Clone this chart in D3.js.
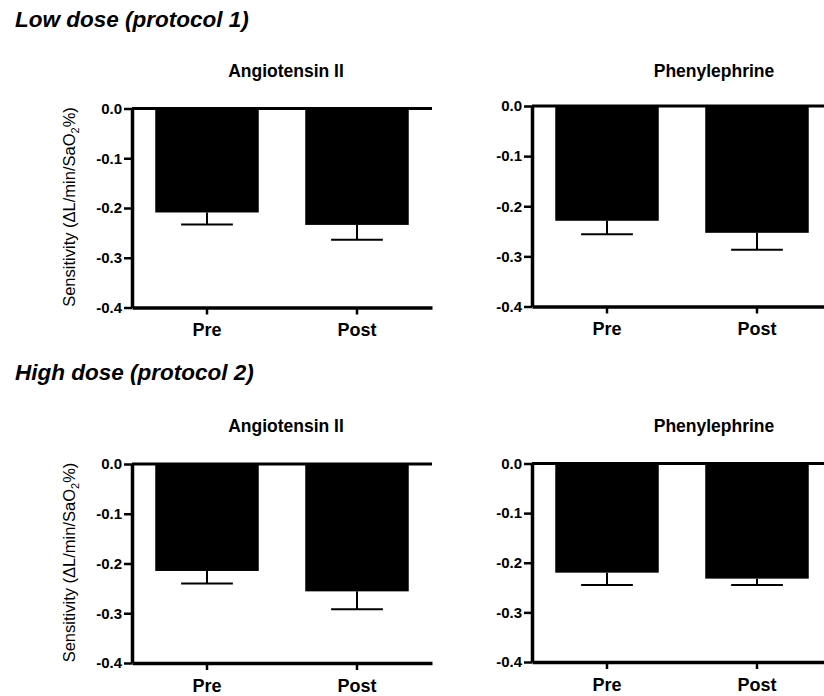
<!DOCTYPE html>
<html>
<head>
<meta charset="utf-8">
<script src="https://cdn.jsdelivr.net/npm/d3@7"></script>
<style>
  html, body { margin: 0; padding: 0; background: #fff; }
  svg { display: block; font-family: "Liberation Sans", Arial, sans-serif; }
</style>
</head>
<body>
<svg id="chart" width="824" height="696"></svg>
<script>
// ---- data ----
const categories = ["Pre", "Post"];
const yTickValues = [0, -0.1, -0.2, -0.3, -0.4];
const sectionTitles = ["Low dose (protocol 1)", "High dose (protocol 2)"];
const drugTitles = ["Angiotensin II", "Phenylephrine"];
const yAxisLabel = "Sensitivity (\u0394L/min/SaO";

const lowAngioMean = [-0.209, -0.234];
const lowAngioErr  = [0.024, 0.030];
const lowPhenyMean = [-0.229, -0.253];
const lowPhenyErr  = [0.027, 0.034];
const highAngioMean = [-0.215, -0.256];
const highAngioErr  = [0.025, 0.036];
const highPhenyMean = [-0.220, -0.232];
const highPhenyErr  = [0.025, 0.013];

// ---- layout ----
const panels = [
  { title: drugTitles[0], mean: lowAngioMean,  err: lowAngioErr,  x0: 132, x1: 432, yTop: 108.5, yBot: 307.5, titleX: 286, titleY: 77, ylab: true },
  { title: drugTitles[1], mean: lowPhenyMean,  err: lowPhenyErr,  x0: 532, x1: 832, yTop: 106,   yBot: 306.5, titleX: 714, titleY: 77, ylab: false },
  { title: drugTitles[0], mean: highAngioMean, err: highAngioErr, x0: 132, x1: 432, yTop: 464,   yBot: 663,   titleX: 286, titleY: 432, ylab: true },
  { title: drugTitles[1], mean: highPhenyMean, err: highPhenyErr, x0: 532, x1: 832, yTop: 463.5, yBot: 662,   titleX: 714, titleY: 432, ylab: false }
];

const svg = d3.select("#chart");

// section titles
svg.selectAll("text.section")
  .data(sectionTitles)
  .enter().append("text")
  .attr("class", "section")
  .attr("x", 15)
  .attr("y", (d, i) => i === 0 ? 27 : 380)
  .attr("font-size", 22.5)
  .attr("font-weight", "bold")
  .attr("font-style", "italic")
  .attr("fill", "#000")
  .text(d => d);

const fmt = d => d.toFixed(1);

panels.forEach(p => {
  const g = svg.append("g");
  const x = d3.scaleBand().domain(categories).range([p.x0, p.x1])
    .paddingInner(0.31).paddingOuter(0.155);
  const y = d3.scaleLinear().domain([0, -0.4]).range([p.yTop, p.yBot]);

  // title
  g.append("text")
    .attr("x", p.titleX).attr("y", p.titleY)
    .attr("text-anchor", "middle")
    .attr("font-size", 17.5).attr("font-weight", "bold")
    .text(p.title);

  const rows = categories.map((c, i) => ({ c, m: p.mean[i], e: p.err[i] }));

  // bars
  g.selectAll("rect.bar").data(rows).enter().append("rect")
    .attr("class", "bar")
    .attr("x", d => x(d.c))
    .attr("width", x.bandwidth())
    .attr("y", y(0))
    .attr("height", d => y(d.m) - y(0))
    .attr("fill", "#000");

  // error bars (downward only)
  const eb = g.selectAll("g.err").data(rows).enter().append("g").attr("class", "err");
  eb.append("line")
    .attr("x1", d => x(d.c) + x.bandwidth() / 2)
    .attr("x2", d => x(d.c) + x.bandwidth() / 2)
    .attr("y1", d => y(d.m))
    .attr("y2", d => y(d.m - d.e))
    .attr("stroke", "#000").attr("stroke-width", 2);
  eb.append("line")
    .attr("x1", d => x(d.c) + x.bandwidth() / 2 - x.bandwidth() * 0.25)
    .attr("x2", d => x(d.c) + x.bandwidth() / 2 + x.bandwidth() * 0.25)
    .attr("y1", d => y(d.m - d.e))
    .attr("y2", d => y(d.m - d.e))
    .attr("stroke", "#000").attr("stroke-width", 2);

  // top zero line
  g.append("line")
    .attr("x1", p.x0).attr("x2", p.x1)
    .attr("y1", y(0)).attr("y2", y(0))
    .attr("stroke", "#000").attr("stroke-width", 3);

  // y axis
  const ya = g.append("g")
    .attr("transform", `translate(${p.x0},0)`)
    .call(d3.axisLeft(y).tickValues(yTickValues).tickFormat(fmt).tickSize(8).tickSizeOuter(0).tickPadding(2));
  ya.select(".domain").attr("stroke-width", 3.5);
  ya.selectAll(".tick line").attr("stroke-width", 2.5);
  ya.selectAll(".tick text")
    .attr("font-size", 15).attr("font-weight", "bold")
    .attr("font-family", "Liberation Sans, Arial, sans-serif").attr("fill", "#000");

  // x axis at bottom
  const xa = g.append("g")
    .attr("transform", `translate(0,${y(-0.4)})`)
    .call(d3.axisBottom(x).tickSize(7).tickSizeOuter(0).tickPadding(9));
  xa.select(".domain").attr("stroke-width", 3.5);
  xa.selectAll(".tick line").attr("stroke-width", 2.5);
  xa.selectAll(".tick text")
    .attr("font-size", 18).attr("font-weight", "bold")
    .attr("font-family", "Liberation Sans, Arial, sans-serif").attr("fill", "#000");

  // y axis label
  if (p.ylab) {
    const cy = (p.yTop + p.yBot) / 2 - 1;
    const t = g.append("text")
      .attr("transform", `translate(75,${cy}) rotate(-90)`)
      .attr("text-anchor", "middle")
      .attr("font-size", 16.5)
      .attr("fill", "#000");
    t.append("tspan").text(yAxisLabel);
    t.append("tspan").attr("font-size", 11).attr("dy", 4).text("2");
    t.append("tspan").attr("dy", -4).text("%)");
  }
});
</script>
</body>
</html>
